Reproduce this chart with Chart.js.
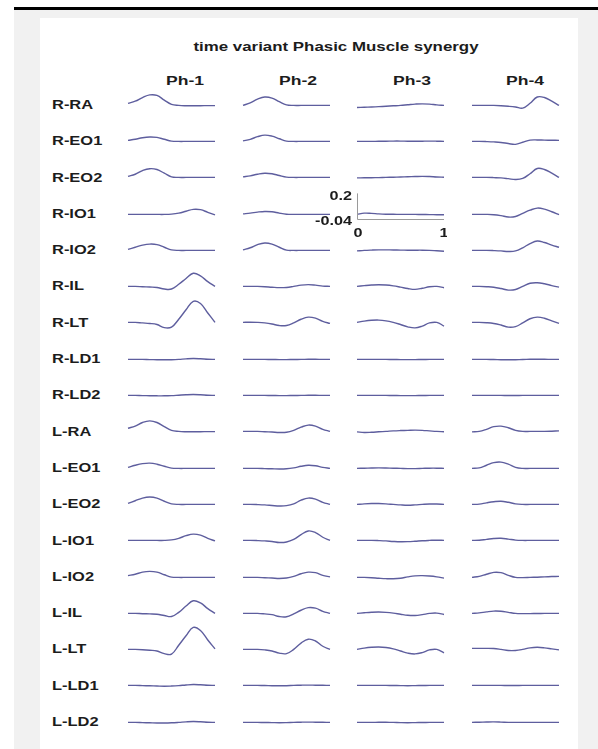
<!DOCTYPE html>
<html>
<head>
<meta charset="utf-8">
<script src="https://cdn.jsdelivr.net/npm/chart.js@4.4.1/dist/chart.umd.min.js"></script>
<style>
  html, body { margin: 0; padding: 0; background: #ffffff; width: 598px; height: 749px; overflow: hidden; }
  #topbar { position: absolute; left: 14px; top: 7px; width: 584px; height: 3px; background: #000; }
  #grey { position: absolute; left: 14px; top: 10px; width: 584px; height: 739px; background: #f1f1f1; }
  #panel { position: absolute; left: 40px; top: 18px; width: 538px; height: 731px; background: #ffffff; }
  .txt { position: absolute; font-family: "Liberation Sans", Arial, sans-serif; font-weight: bold; color: #1c1c1c; white-space: nowrap; line-height: 1; }
  canvas.cell { position: absolute; }
</style>
</head>
<body>
<div id="topbar"></div>
<div id="grey"></div>
<div id="panel"></div>
<div id="stage"></div>
<script>
// ---------------- data ----------------
const title = "time variant Phasic Muscle synergy";
const phases = ["Ph-1", "Ph-2", "Ph-3", "Ph-4"];
const muscles = ["R-RA","R-EO1","R-EO2","R-IO1","R-IO2","R-IL","R-LT","R-LD1","R-LD2",
                 "L-RA","L-EO1","L-EO2","L-IO1","L-IO2","L-IL","L-LT","L-LD1","L-LD2"];
const timeAxis = [0,0.083,0.167,0.25,0.333,0.417,0.5,0.583,0.667,0.75,0.833,0.917,1];
const scaleYTicks = [-0.04, 0.2];
const scaleXTicks = [0, 1];

const ph1 = [
 [0.02,0.04,0.075,0.10,0.095,0.05,0.01,0,-0.003,-0.003,-0.003,-0.002,-0.002],
 [0.01,0.02,0.035,0.042,0.038,0.02,0.003,0,0,0,0,0,0],
 [0.01,0.03,0.065,0.083,0.075,0.04,0.005,0,0,0,0,0,0],
 [0,0,0,0,0,0,0.003,0.012,0.03,0.048,0.045,0.02,-0.005],
 [0.01,0.03,0.05,0.06,0.055,0.03,0.005,0,0,0,0,0,0],
 [0,0,-0.003,-0.006,-0.01,-0.025,-0.025,0.02,0.075,0.125,0.1,0.045,0],
 [0,0,-0.005,-0.01,-0.02,-0.05,-0.045,0.03,0.12,0.2,0.18,0.09,0],
 [0,0,0,-0.002,-0.003,-0.004,-0.003,0,0.005,0.008,0.006,0.002,0],
 [0,0,-0.002,-0.003,-0.004,-0.004,-0.002,0.002,0.006,0.008,0.006,0.002,0],
 [0.03,0.05,0.085,0.10,0.085,0.045,0.01,0,-0.003,-0.003,-0.003,-0.002,-0.002],
 [0.01,0.03,0.045,0.05,0.04,0.02,0.003,0,0,0,0,0,0],
 [0.01,0.035,0.06,0.07,0.06,0.03,0.005,0,0,0,0,0,0],
 [0,0,0,0,0,0,0.005,0.02,0.045,0.06,0.05,0.02,-0.005],
 [0.017,0.03,0.05,0.057,0.05,0.025,0.003,0,0,0,0,0,0],
 [0,0,-0.003,-0.005,-0.008,-0.02,-0.03,0.01,0.07,0.12,0.1,0.045,0],
 [0,0,-0.003,-0.008,-0.015,-0.04,-0.045,0.04,0.13,0.21,0.18,0.09,0.005],
 [0,0,-0.002,-0.004,-0.006,-0.008,-0.006,-0.002,0.004,0.008,0.006,0.002,0],
 [0,0,-0.002,-0.004,-0.006,-0.006,-0.004,0,0.005,0.008,0.006,0.002,0]
];
const ph2 = [
 [0,0.025,0.06,0.08,0.07,0.035,0.005,0,0,0,0,0,0],
 [0.005,0.02,0.045,0.06,0.05,0.025,0.003,0,0,0,0,0,0],
 [0.005,0.015,0.03,0.04,0.035,0.018,0.003,0,0,0,0,0,0],
 [0.005,0.012,0.022,0.028,0.025,0.012,0.002,0,0,0,0,0,0],
 [0.005,0.025,0.055,0.07,0.06,0.03,0.003,0,0,0,0,0,0],
 [0,0,0,-0.003,-0.008,-0.012,-0.01,0,0.012,0.017,0.012,0.003,0],
 [0,0.002,0,-0.005,-0.015,-0.03,-0.03,-0.005,0.03,0.05,0.04,0.01,-0.01],
 [0,0,0,0,-0.001,-0.002,-0.002,-0.001,0,0.001,0.001,0,0],
 [0,0,0,0,-0.001,-0.002,-0.002,-0.001,0,0.001,0.001,0,0],
 [0,0,0,-0.003,-0.006,-0.01,-0.008,0.01,0.04,0.06,0.05,0.02,0],
 [0,0,0,-0.002,-0.004,-0.006,-0.004,0.005,0.02,0.03,0.025,0.01,0],
 [0,0,-0.002,-0.005,-0.01,-0.015,-0.012,0.005,0.04,0.06,0.05,0.02,0],
 [0,0,-0.002,-0.005,-0.01,-0.02,-0.015,0.01,0.055,0.09,0.075,0.03,0],
 [0,0,0,-0.003,-0.006,-0.01,-0.006,0.01,0.035,0.05,0.045,0.02,0.005],
 [0,0,0,-0.005,-0.012,-0.03,-0.032,-0.005,0.03,0.055,0.05,0.02,0],
 [0,0,0,-0.005,-0.015,-0.035,-0.04,0,0.06,0.097,0.08,0.03,0],
 [0,0,0,-0.001,-0.003,-0.004,-0.003,0,0.002,0.003,0.002,0.001,0],
 [0,0,0,-0.001,-0.002,-0.003,-0.002,0,0.002,0.003,0.002,0.001,0]
];
const ph3 = [
 [-0.02,-0.018,-0.015,-0.012,-0.008,-0.004,0,0.006,0.012,0.015,0.012,0.005,0],
 [0,0,0,0.001,0.002,0.003,0.003,0.002,0.001,0.002,0.003,0.002,0],
 [-0.005,-0.004,-0.003,-0.002,0,0.002,0.004,0.006,0.008,0.01,0.008,0.004,0.002],
 [0,0.012,0.01,0.005,0.002,0.001,0,0,0,-0.001,-0.002,-0.003,-0.004],
 [-0.005,0,0.003,0.005,0.005,0.004,0.003,0.002,0.002,0.002,0,-0.004,-0.008],
 [0,0.007,0.013,0.016,0.013,0.005,-0.007,-0.02,-0.028,-0.018,-0.003,0,-0.013],
 [0,0.012,0.02,0.022,0.015,0,-0.02,-0.042,-0.052,-0.035,-0.005,0,-0.035],
 [0,0,0,0,0,-0.001,-0.002,-0.002,-0.002,-0.001,0,0,0],
 [0,0,0,0,0,-0.001,-0.002,-0.002,-0.002,-0.001,0,0,0],
 [-0.005,-0.01,-0.008,-0.004,0,0.005,0.008,0.01,0.012,0.01,0.005,0,-0.003],
 [0,0.002,0.004,0.005,0.004,0.002,0,-0.002,-0.002,0,0.002,0.002,0],
 [0,0.005,0.008,0.008,0.005,0,-0.005,-0.008,-0.005,0,0.004,0.004,0],
 [0,0,0,-0.002,-0.005,-0.01,-0.013,-0.012,-0.008,-0.003,0,0.002,0],
 [0,0,-0.003,-0.008,-0.012,-0.013,-0.008,0.005,0.015,0.017,0.013,0.005,-0.007],
 [0,0.006,0.011,0.013,0.01,0.003,-0.008,-0.018,-0.02,-0.012,0,0.003,-0.01],
 [0,0.012,0.02,0.023,0.018,0.005,-0.015,-0.035,-0.043,-0.03,-0.005,0,-0.032],
 [0,0,0,0,0,-0.001,-0.002,-0.003,-0.002,-0.001,0,0,0],
 [0,0,0,0.001,0.001,0,-0.002,-0.003,-0.002,-0.001,0,0,0]
];
const ph4 = [
 [0,0,0,0,-0.003,-0.008,-0.015,-0.026,0.02,0.08,0.075,0.04,0],
 [0,0,-0.002,-0.005,-0.01,-0.02,-0.028,-0.008,0.012,0.014,0.012,0.011,0.01],
 [0,0,0,-0.002,-0.005,-0.012,-0.02,-0.01,0.035,0.085,0.075,0.04,0],
 [0,0,0,-0.003,-0.012,-0.025,-0.02,0.01,0.04,0.06,0.05,0.025,-0.003],
 [0,0,0,-0.002,-0.005,-0.01,-0.005,0.025,0.065,0.09,0.075,0.05,0.03],
 [0,0,-0.003,-0.008,-0.02,-0.035,-0.03,0,0.03,0.035,0.025,0.008,-0.007],
 [0,0,-0.003,-0.01,-0.025,-0.045,-0.04,-0.005,0.035,0.05,0.04,0.015,-0.01],
 [0,0,0,-0.001,-0.003,-0.004,-0.003,-0.001,0.001,0.002,0.001,0,0],
 [0,0,0,0,0,-0.001,-0.001,0,0,0,0,0,0],
 [-0.005,0,0.02,0.045,0.05,0.035,0.01,0,0,0,0,0.002,0.005],
 [0,0.005,0.03,0.055,0.06,0.04,0.01,0,0,0,0,0,0],
 [0,0.003,0.015,0.025,0.03,0.02,0.005,0,0,0,0,0,0],
 [0,0.002,0.01,0.018,0.02,0.012,0.003,0,0,0,0,0,0],
 [0,0.01,0.03,0.048,0.045,0.02,0,-0.002,0,0.002,0.005,0.008,0.01],
 [0,0.005,0.015,0.022,0.02,0.01,0,-0.002,-0.002,-0.001,0,0,0],
 [0.01,0.01,0.01,0.008,0,-0.01,-0.01,0,0.015,0.02,0.015,0.005,-0.005],
 [0,0,0,0,0,-0.001,-0.001,0,0,0,0,0,0],
 [0,0.002,0.004,0.005,0.003,0,0,0,0,0,0,0,0]
];
const phaseData = [ph1, ph2, ph3, ph4];

// ---------------- layout ----------------
const colLeft = [128, 243, 357, 472];
const colWidth = 87;
const rowBase0 = 105, rowStep = 36.3;
const yMin = -0.12, yMax = 0.28;
const plotH = 42;
const lineColor = "#5e5e9e";
const insetRow = 3, insetCol = 2;
const stretch = 1.35;

const stage = document.getElementById("stage");
function addText(str, x, y, size, align) {
  const d = document.createElement("div");
  d.className = "txt";
  d.textContent = str;
  d.style.fontSize = size + "px";
  d.style.top = (y - size * 0.5) + "px";
  if (align === "center") {
    d.style.left = (x - 200) + "px"; d.style.width = "400px"; d.style.textAlign = "center";
    d.style.transformOrigin = "50% 50%";
  } else {
    d.style.left = x + "px"; d.style.transformOrigin = "0 50%";
  }
  d.style.transform = "scaleX(" + stretch + ")";
  stage.appendChild(d);
}
addText(title, 336, 47, 12.5, "center");
const hdrX = [185, 298, 412, 525];
phases.forEach((p, i) => addText(p, hdrX[i], 80, 13, "center"));
muscles.forEach((m, r) => addText(m, 52, rowBase0 + r * rowStep, 12.2, "left"));

const insetAxes = {
  id: "insetAxes",
  afterDatasetsDraw(chart) {
    const ctx = chart.ctx, xs = chart.scales.x, ys = chart.scales.y;
    const x0 = xs.getPixelForValue(scaleXTicks[0]), x1 = xs.getPixelForValue(scaleXTicks[1]);
    const yb = ys.getPixelForValue(scaleYTicks[0]), yt = ys.getPixelForValue(scaleYTicks[1]);
    ctx.save();
    ctx.strokeStyle = "#9a9a9a"; ctx.lineWidth = 1;
    ctx.beginPath();
    ctx.moveTo(Math.round(x0) + 0.5, yt); ctx.lineTo(Math.round(x0) + 0.5, Math.round(yb) + 0.5);
    ctx.lineTo(x1, Math.round(yb) + 0.5);
    ctx.stroke();
    ctx.fillStyle = "#1c1c1c";
    ctx.font = "bold 12px 'Liberation Sans', Arial, sans-serif";
    const put = (s, x, y, align, base) => {
      ctx.save(); ctx.translate(x, y); ctx.scale(stretch, 1);
      ctx.textAlign = align; ctx.textBaseline = base; ctx.fillText(s, 0, 0); ctx.restore();
    };
    put(String(scaleYTicks[1]), x0 - 5, yt + 3, "right", "middle");
    put(String(scaleYTicks[0]), x0 - 5, yb + 3, "right", "middle");
    put(String(scaleXTicks[0]), x0 + 1, yb + 9, "center", "top");
    put(String(scaleXTicks[1]), x1, yb + 9, "center", "top");
    ctx.restore();
  }
};

for (let c = 0; c < 4; c++) {
  for (let r = 0; r < muscles.length; r++) {
    const isInset = (r === insetRow && c === insetCol);
    const padL = isInset ? 70 : 3, padR = 3, padB = isInset ? 26 : 0;
    const cv = document.createElement("canvas");
    cv.className = "cell";
    const w = colWidth + padL + padR, h = plotH + padB;
    cv.width = w; cv.height = h;
    cv.style.width = w + "px"; cv.style.height = h + "px";
    const base = rowBase0 + r * rowStep;
    cv.style.left = (colLeft[c] - padL) + "px";
    cv.style.top = (base - yMax / (yMax - yMin) * plotH) + "px";
    stage.appendChild(cv);
    const vals = phaseData[c][r];
    new Chart(cv, {
      type: "line",
      data: { datasets: [{
        data: timeAxis.map((t, i) => ({ x: t, y: vals[i] })),
        borderColor: lineColor, borderWidth: 1.4, pointRadius: 0, tension: 0.4, fill: false
      }]},
      options: {
        responsive: false, animation: false, devicePixelRatio: 1,
        layout: { padding: { left: padL, right: padR, top: 0, bottom: padB } },
        plugins: { legend: { display: false }, tooltip: { enabled: false } },
        events: [],
        scales: {
          x: { type: "linear", min: 0, max: 1, display: false },
          y: { type: "linear", min: yMin, max: yMax, display: false }
        },
        clip: false
      },
      plugins: isInset ? [insetAxes] : []
    });
  }
}
</script>
</body>
</html>
